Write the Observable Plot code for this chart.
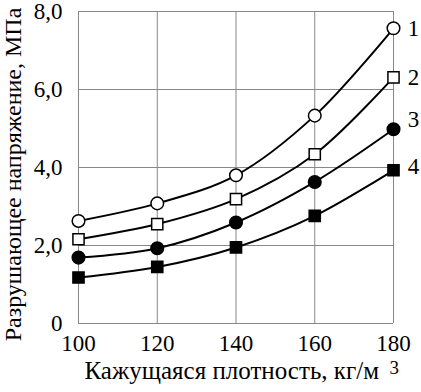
<!DOCTYPE html>
<html>
<head>
<meta charset="utf-8">
<script src="https://cdn.jsdelivr.net/npm/d3@7"></script>
<script src="https://cdn.jsdelivr.net/npm/@observablehq/plot@0.6"></script>
<style>
  html, body { margin: 0; padding: 0; background: #fff; }
  svg, svg text { font-family: "Liberation Serif", "Times New Roman", serif !important; }
</style>
</head>
<body>
<div id="chart"></div>
<script>
const density = [100, 120, 140, 160, 180];
const series1 = [2.63, 3.08, 3.80, 5.33, 7.57];
const series2 = [2.16, 2.55, 3.19, 4.34, 6.31];
const series3 = [1.69, 1.93, 2.59, 3.63, 4.98];
const series4 = [1.18, 1.45, 1.95, 2.76, 3.93];
const seriesLabels = ["1", "2", "3", "4"];
const yTicks = [0, 2, 4, 6, 8];
const yTickLabels = ["0", "2,0", "4,0", "6,0", "8,0"];
const xTicks = [100, 120, 140, 160, 180];
const xTitle = "Кажущаяся плотность, кг/м";
const xTitleSup = "3";
const yTitle = "Разрушающее напряжение, МПа";

const allSeries = [series1, series2, series3, series4];
const styles = [
  {symbol: "circle", fill: "white", r: 6.3},
  {symbol: "square", fill: "white", r: 6.3},
  {symbol: "circle", fill: "black", r: 6.3},
  {symbol: "square", fill: "black", r: 6.3}
];
const labelDy = [0, 0, -10, -4];

const rows = allSeries.flatMap((s, i) => s.map((v, j) => ({x: density[j], y: v, k: i})));
const last = allSeries.map((s, i) => ({x: density[density.length - 1], y: s[s.length - 1], k: i, label: seriesLabels[i]}));

const font = "Liberation Serif";

const marks = [
  Plot.ruleX(xTicks, {stroke: "#888", strokeWidth: 1}),
  Plot.ruleY(yTicks, {stroke: "#888", strokeWidth: 1}),
  ...allSeries.map((s, i) => Plot.line(rows.filter(d => d.k === i), {x: "x", y: "y", curve: "catmull-rom", stroke: "black", strokeWidth: 2})),
  ...allSeries.map((s, i) => Plot.dot(rows.filter(d => d.k === i), {x: "x", y: "y", symbol: styles[i].symbol, r: styles[i].r, fill: styles[i].fill, stroke: "black", strokeWidth: 1.5})),
  ...last.map((d, i) => Plot.text([d], {x: "x", y: "y", text: "label", dx: 20, dy: labelDy[i], textAnchor: "middle", fontSize: 23, fontFamily: font, fill: "black"})),
  Plot.text([yTitle], {frameAnchor: "left", rotate: -90, dx: -65, dy: 7, text: d => d, textAnchor: "middle", fontSize: 24, fontFamily: font, fill: "black"}),
  Plot.text([xTitle], {frameAnchor: "bottom-left", dx: 6, dy: 55, text: d => d, textAnchor: "start", fontSize: 25, fontFamily: font, fill: "black"}),
  Plot.text([xTitleSup], {frameAnchor: "bottom-left", dx: 311, dy: 50, text: d => d, textAnchor: "start", fontSize: 19, fontFamily: font, fill: "black"})
];

const chart = Plot.plot({
  width: 421,
  height: 392,
  marginLeft: 78,
  marginRight: 28,
  marginTop: 11,
  marginBottom: 69,
  style: {fontFamily: font, fontSize: "23px", color: "black", background: "white", overflow: "visible"},
  x: {domain: [100, 180], ticks: xTicks, tickSize: 0, tickPadding: 11, tickFormat: d => String(d), label: null},
  y: {domain: [0, 8], ticks: yTicks, tickSize: 0, tickPadding: 16, tickFormat: d => yTickLabels[yTicks.indexOf(d)], label: null},
  marks
});
chart.setAttribute("font-family", font);
chart.querySelectorAll("text").forEach(el => { el.setAttribute("font-family", font); el.style.fontFamily = font; });
document.getElementById("chart").appendChild(chart);
</script>
</body>
</html>
